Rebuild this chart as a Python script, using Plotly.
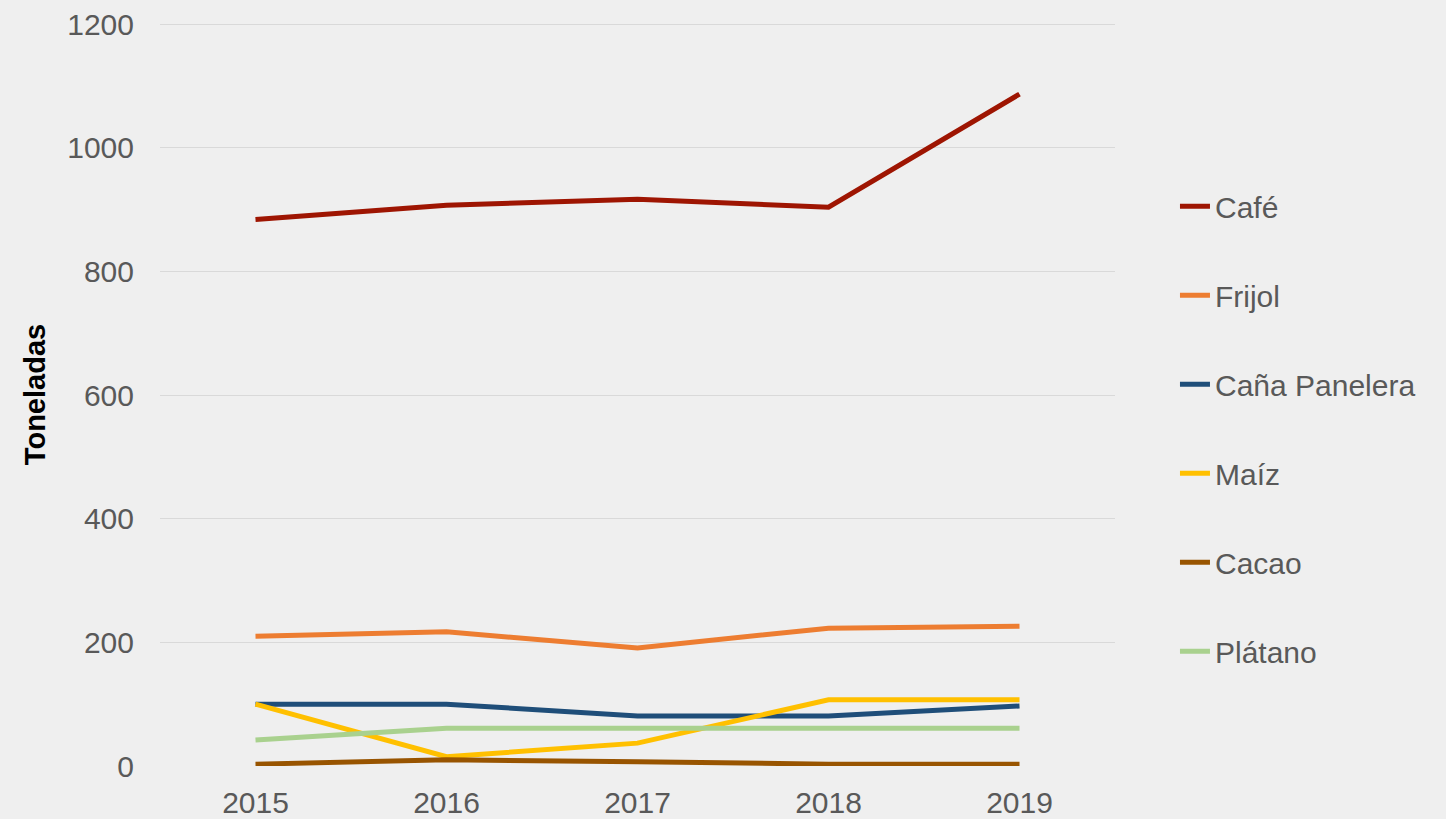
import plotly.graph_objects as go

years = ["2015", "2016", "2017", "2018", "2019"]
cafe = [884, 907, 917, 904, 1087]
frijol = [210, 217, 191, 223, 226]
cana = [100, 100, 81, 81, 97]
maiz = [100, 15, 37, 107, 107]
cacao = [3, 10, 7, 3, 3]
platano = [42, 61, 61, 61, 61]

series = [
    ("Café", cafe, "#9E1502"),
    ("Frijol", frijol, "#ED7D31"),
    ("Caña Panelera", cana, "#1F4E79"),
    ("Maíz", maiz, "#FFC000"),
    ("Cacao", cacao, "#985400"),
    ("Plátano", platano, "#A9D18E"),
]

fig = go.Figure()
for name, vals, col in series:
    fig.add_trace(go.Scatter(x=years, y=vals, name=name, mode="lines",
                             legendgroup=name,
                             line=dict(color=col, width=5)))

fig.update_layout(
    width=1446, height=819,
    paper_bgcolor="#efefef", plot_bgcolor="#efefef",
    margin=dict(l=160, r=331, t=23, b=53),
    font=dict(family="Liberation Sans, Arial, sans-serif", color="#595959"),
    showlegend=True,
    legend=dict(x=1.0628, xanchor="left", y=0.454, yanchor="middle",
                font=dict(size=30, color="#595959"),
                tracegroupgap=47, bgcolor="rgba(0,0,0,0)"),
    xaxis=dict(type="category", range=[-0.5, 4.5], showgrid=False,
               zeroline=False, showline=False, ticks="", automargin=False,
               ticklabelstandoff=16,
               tickfont=dict(size=30, color="#595959")),
    yaxis=dict(range=[0, 1202], dtick=200, showgrid=True, automargin=False,
               gridcolor="#d9d9d9", gridwidth=1, zeroline=False,
               showline=False, ticks="", ticklabelstandoff=25,
               tickfont=dict(size=30, color="#595959"),
               title=dict(text="<b>Toneladas</b>",
                          font=dict(size=29, color="#000000"), standoff=13)),
)

fig.write_html("out.html", config={"displayModeBar": False},
               post_script="document.body.style.margin='0px';")
